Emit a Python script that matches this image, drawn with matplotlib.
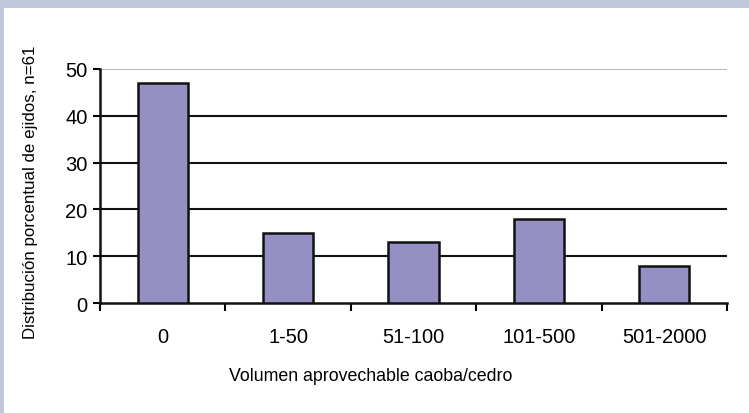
import matplotlib
matplotlib.use("Agg")
import matplotlib.pyplot as plt
from matplotlib.patches import Rectangle
import numpy as np

categories = ["0", "1-50", "51-100", "101-500", "501-2000"]
values = [47, 15, 13, 18, 8]
yticks = [0, 10, 20, 30, 40, 50]

plt.rcParams['font.family'] = ['Liberation Sans', 'DejaVu Sans']

fig = plt.figure(figsize=(7.49, 4.14), dpi=100)
fig.patch.set_facecolor('white')
# decorative bands
fig.add_artist(Rectangle((0, 1 - 9/414), 1, 9/414, transform=fig.transFigure,
                         facecolor='#c0c6dc', edgecolor='none'))
fig.add_artist(Rectangle((0, 0), 4/749, 1, transform=fig.transFigure,
                         facecolor='#c0c6dc', edgecolor='none'))

ax = fig.add_axes([100/749, 1 - 304/414, 627/749, 234/414])
x = np.arange(len(categories))
ax.bar(x, values, width=0.4, color='#9490c4', edgecolor='#111111', linewidth=1.8, zorder=3)

ax.set_xlim(-0.5, len(categories) - 0.5)
ax.set_ylim(0, 50)
ax.set_yticks(yticks)
ax.tick_params(axis='y', labelsize=14.5, length=5, width=1.5, direction='out', pad=4)
for yv in yticks[1:-1]:
    ax.axhline(yv, color='#111111', linewidth=1.5, zorder=1)
ax.axhline(50, color='#bbbbbb', linewidth=1.5, zorder=1)

ax.set_xticks(np.arange(len(categories) + 1) - 0.5)
ax.set_xticklabels([])
ax.tick_params(axis='x', which='major', length=6, width=1.5, direction='out')
ax.set_xticks(x, minor=True)
ax.set_xticklabels(categories, minor=True)
ax.tick_params(axis='x', which='minor', length=0, labelsize=14.5, pad=17)

for s in ['top', 'right']:
    ax.spines[s].set_visible(False)
for s in ['left', 'bottom']:
    ax.spines[s].set_linewidth(1.8)
    ax.spines[s].set_color('#111111')

fig.text(371/749, 1 - 377/414, "Volumen aprovechable caoba/cedro", ha='center', va='center', fontsize=12.8)
fig.text(31/749, 1 - 192/414, "Distribución porcentual de ejidos, n=61", ha='center', va='center',
         rotation=90, fontsize=12.2)

fig.savefig("out.png", dpi=100)
